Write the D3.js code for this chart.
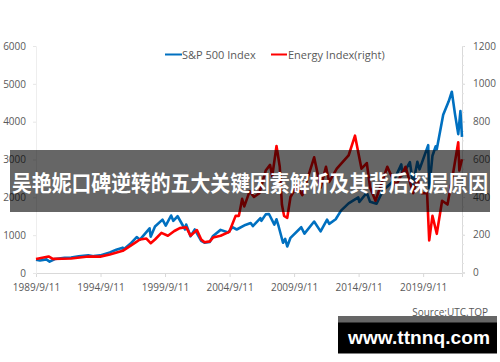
<!DOCTYPE html>
<meta charset="utf-8">
<style>
    body { margin: 0; background: #fff; }
    .tick text { font-family: "Open Sans", sans-serif; font-size: 10px; fill: #595959; }
</style>
<body>
<script src="https://d3js.org/d3.v7.min.js"></script>
<svg width="500" height="362"></svg>
<script>
// S&P 500 Index (left axis)
var spxDates = ["1989-09-11","1990-01","1990-07","1990-10","1991-03","1991-12","1992-06","1993-01","1993-10","1994-03",
    "1994-09","1995-06","1995-12","1996-06","1996-07","1997-01","1997-07","1997-10","1998-07","1998-08",
    "1998-12","1999-07","1999-10","2000-03","2000-05","2000-09","2001-04","2001-05","2001-09","2002-01",
    "2002-07","2002-10","2003-03","2003-06","2004-01","2004-08","2004-12","2005-04","2005-12","2006-05",
    "2006-07","2007-02","2007-03","2007-07","2007-10","2008-03","2008-05","2008-07","2008-11","2009-01",
    "2009-03","2009-06","2010-04","2010-07","2011-04","2011-10","2012-04","2012-06","2012-12","2013-05",
    "2013-12","2014-09","2014-10","2015-05","2015-08","2016-02","2016-08","2017-06","2018-01","2018-02",
    "2018-09","2018-12","2019-04","2019-06","2020-02","2020-03","2020-06","2020-09","2020-10","2021-04",
    "2021-09","2021-12","2022-03","2022-06","2022-08","2022-09-15"];
var spxValues = [350,330,360,300,370,400,410,440,465,445,
    465,545,615,670,630,770,950,880,1180,960,
    1230,1410,1250,1520,1380,1500,1150,1280,970,1150,
    850,800,820,980,1140,1070,1210,1150,1270,1320,
    1240,1450,1380,1550,1560,1280,1420,1230,800,900,
    700,930,1210,1040,1360,1100,1410,1300,1420,1650,
    1840,2000,1880,2120,1880,1830,2180,2440,2870,2580,
    2930,2350,2940,2740,3380,2240,3100,3350,3270,4180,
    4530,4790,4200,3670,4280,3600];

// Energy Index (right axis)
var energyDates = ["1989-09-11","1990-09","1991-01","1992-06","1993-10","1994-09","1995-06","1996-06","1997-06","1997-10",
    "1998-04","1998-08","1998-12","1999-06","1999-12","2000-06","2000-11","2001-05","2001-09","2002-03",
    "2002-07","2002-10","2003-03","2003-06","2004-01","2004-09","2005-03","2005-06","2005-09","2005-11",
    "2006-04","2006-08","2007-01","2007-07","2007-11","2008-01","2008-05","2008-08","2008-10","2008-12",
    "2009-03","2009-06","2009-12","2010-05","2011-04","2011-10","2012-03","2012-06","2013-01","2013-12",
    "2014-06","2014-12","2015-05","2015-08","2016-01","2016-12","2017-08","2018-05","2018-12","2019-04",
    "2019-08","2020-01","2020-03","2020-06","2020-10","2021-03","2021-08","2022-01","2022-06","2022-07",
    "2022-09-15"];
var energyValues = [72,85,72,74,85,84,95,115,160,175,
    180,155,175,210,195,220,235,240,195,225,
    175,160,165,185,195,215,300,300,390,350,
    430,400,420,540,570,510,670,560,360,300,
    290,400,460,410,610,450,560,480,550,620,
    725,550,580,450,380,560,460,560,420,500,
    420,420,170,300,205,380,360,520,690,540,
    600];

var leftTicks = [0,1000,2000,3000,4000,5000,6000];
var rightTicks = [0,200,400,600,800,1000,1200];
var xTickLabels = ["1989/9/11","1994/9/11","1999/9/11","2004/9/11","2009/9/11","2014/9/11","2019/9/11"];

var title = "吴艳妮口碑逆转的五大关键因素解析及其背后深层原因";
var seriesNames = ["S&P 500 Index", "Energy Index(right)"];

var svg = d3.select("svg");
var parse = function(s) { return s.length > 7 ? d3.timeParse("%Y-%m-%d")(s) : d3.timeParse("%Y-%m")(s); };

var x = d3.scaleTime()
    .domain([parse("1989-09-11"), parse("2022-09-15")])
    .range([36, 462]);
var yLeft = d3.scaleLinear().domain([0, 6000]).range([273, 46]);
var yRight = d3.scaleLinear().domain([0, 1200]).range([272.5, 46]);

var spx = spxDates.map(function(d, i) { return { date: parse(d), value: spxValues[i] }; });
var energy = energyDates.map(function(d, i) { return { date: parse(d), value: energyValues[i] }; });

// axes
var xTickDates = xTickLabels.map(function(s) { return d3.timeParse("%Y/%m/%d")(s); });
var xAxis = svg.append("g")
    .attr("transform", "translate(0,273)")
    .call(d3.axisBottom(x).tickValues(xTickDates).tickSize(4).tickPadding(7)
        .tickFormat(function(d, i) { return xTickLabels[i]; }));
xAxis.select(".domain").attr("stroke", "#d9d9d9");
xAxis.selectAll("line").attr("stroke", "#d9d9d9");

var lAxis = svg.append("g")
    .attr("transform", "translate(36,0)")
    .call(d3.axisLeft(yLeft).tickValues(leftTicks).tickSize(3).tickPadding(7).tickFormat(d3.format("d")));
lAxis.select(".domain").attr("stroke", "#eeeeee");
lAxis.selectAll("line").attr("stroke", "#e6e6e6");

var rAxis = svg.append("g")
    .attr("transform", "translate(462,0)")
    .call(d3.axisRight(yRight).tickValues(rightTicks).tickSize(3).tickPadding(8).tickFormat(d3.format("d")));
rAxis.select(".domain").attr("stroke", "#d9d9d9");
rAxis.selectAll("line").attr("stroke", "#d9d9d9");
svg.append("g")
    .attr("transform", "translate(462,0)")
    .call(d3.axisRight(yRight).ticks(24).tickSize(2).tickFormat(""))
    .call(function(g) { g.select(".domain").remove(); g.selectAll("line").attr("stroke", "#e3e3e3"); });

// lines
var lineL = d3.line().x(function(d) { return x(d.date); }).y(function(d) { return yLeft(d.value); });
var lineR = d3.line().x(function(d) { return x(d.date); }).y(function(d) { return yRight(d.value); });

svg.append("path").datum(spx)
    .attr("d", lineL).attr("fill", "none").attr("stroke", "#0070c0").attr("stroke-width", 2.6)
    .attr("stroke-linejoin", "round");
svg.append("path").datum(energy)
    .attr("d", lineR).attr("fill", "none").attr("stroke", "#ff0000").attr("stroke-width", 2.6)
    .attr("stroke-linejoin", "round");

// legend
var legend = svg.append("g").style("font-family", "'Open Sans', sans-serif").style("font-size", "11px");
legend.append("line").attr("x1", 165).attr("x2", 182).attr("y1", 54.5).attr("y2", 54.5)
    .attr("stroke", "#0070c0").attr("stroke-width", 2);
legend.append("text").attr("x", 182).attr("y", 58.5).attr("fill", "#595959").text(seriesNames[0]);
legend.append("line").attr("x1", 271).attr("x2", 287).attr("y1", 54.5).attr("y2", 54.5)
    .attr("stroke", "#ff0000").attr("stroke-width", 2);
legend.append("text").attr("x", 288).attr("y", 58.5).attr("fill", "#595959").text(seriesNames[1]);

svg.append("text")
    .attr("x", 488).attr("y", 316)
    .attr("text-anchor", "end")
    .style("font-family", "'Open Sans', sans-serif").style("font-size", "10px")
    .attr("fill", "#595959")
    .text("Source:UTC.TOP");

// title overlay
svg.append("rect").attr("x", 10).attr("y", 150).attr("width", 480).attr("height", 62)
    .attr("fill", "#000").attr("opacity", 0.6);
svg.append("text")
    .attr("x", 250).attr("y", 190.5)
    .attr("text-anchor", "middle")
    .attr("textLength", 476).attr("lengthAdjust", "spacingAndGlyphs")
    .style("font-family", "'Noto Sans CJK SC', sans-serif").style("font-size", "21.5px").style("font-weight", "bold")
    .attr("fill", "#fff")
    .text(title);

// watermark
svg.append("rect").attr("x", 338).attr("y", 316).attr("width", 159).attr("height", 7).attr("fill", "#666");
svg.append("rect").attr("x", 338).attr("y", 322.5).attr("width", 159).attr("height", 31).attr("fill", "#000");
svg.append("text")
    .attr("x", 348).attr("y", 344)
    .attr("textLength", 142).attr("lengthAdjust", "spacingAndGlyphs")
    .style("font-family", "'Liberation Sans', Arial, sans-serif").style("font-size", "19px").style("font-weight", "bold")
    .attr("fill", "#fff")
    .text("www.ttnnq.com");
</script>
</body>
